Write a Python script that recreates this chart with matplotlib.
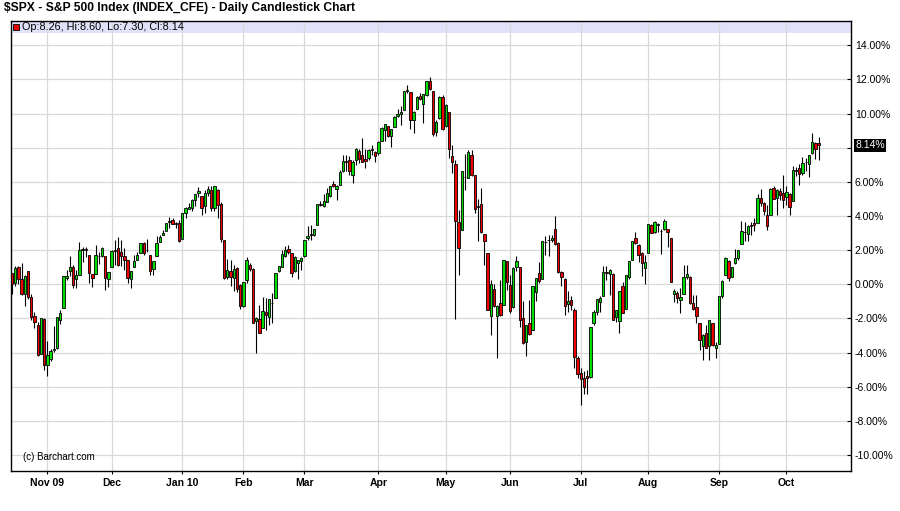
import numpy as np
import pandas as pd
import matplotlib
matplotlib.use("Agg")
import matplotlib.pyplot as plt
from matplotlib.patches import Rectangle

plt.rcParams['font.family'] = ['Liberation Sans', 'DejaVu Sans']

# trading days, Oct 16 2009 .. Oct 15 2010 (NYSE holidays removed)
holidays = ['2009-11-26', '2009-12-25', '2010-01-01', '2010-01-18', '2010-02-15',
            '2010-04-02', '2010-05-31', '2010-07-05', '2010-09-06']

# % change vs. first close, one row per month
opens = [
    0.64, 0.05, 1.00, 0.31, -0.58, 0.75, -0.74, -1.86, -2.39, -4.06, -2.06,
    -4.70, -4.35, -3.85, -3.76, -2.10, -1.41, 0.35, 0.75, 1.00, 0.29, 0.57, 1.98, 2.08, 1.70, 0.63, 0.63, 1.65, 1.67, 1.63, 0.29,
    1.00, 1.96, 2.12, 1.90, 1.67, 1.41, 0.29, 1.00, 1.43, 1.82, 2.41, 2.02, 1.73, 0.90, 1.63, 2.45, 2.86, 3.10, 3.63, 3.75, 3.60, 3.60,
    2.65, 4.18, 4.40, 4.47, 4.92, 5.35, 5.16, 4.57, 5.35, 5.55, 4.47, 5.55, 4.73, 2.57, 0.43, 0.78, 0.39, 0.95, -0.04,
    -1.27, 0.25, 1.15, 0.88, -2.17, -2.06, -2.59, -1.61, -1.90, -1.08, -0.82, 0.75, 1.04, 1.67, 2.08, 1.84, 0.76, 1.25, 1.39,
    1.64, 2.71, 2.95, 2.87, 3.46, 4.71, 4.57, 4.80, 5.16, 5.88, 5.59, 5.84, 6.66, 7.25, 7.30, 6.43, 7.30, 7.83, 7.60, 7.34, 7.40, 7.93, 7.75,
    7.70, 8.38, 9.02, 9.26, 8.67, 9.22, 9.84, 9.98, 10.23, 11.35, 11.25, 9.61, 10.27, 11.00, 10.57, 11.10, 11.90, 11.30, 8.90, 9.74, 10.98,
    9.30, 10.10, 7.54, 7.05, 3.65, 3.16, 6.30, 6.23, 7.60, 6.43, 4.57, 4.71, 2.95, 1.84, -1.88, -0.27, -1.88, -1.10, -1.19, 1.39,
    -0.02, -1.33, 1.02, 1.02, -1.97, -3.38, -2.27, -2.66, -0.47, 0.66, 0.31, 2.50, 2.58, 2.62, 3.24, 2.42, 0.72, 0.31, -1.15, -0.90, -1.48, -4.34,
    -5.21, -5.50, -5.40, -5.45, -2.29, -1.60, -1.02, -0.66, 0.70, 0.60, 0.60, -1.93, -2.13, -0.10, -1.46, 0.41, 1.43, 2.70, 2.30, 1.86, 0.98,
    1.82, 3.48, 3.05, 3.50, 3.14, 3.22, 3.22, 2.70, -0.59, -0.53, -0.92, -0.57, 0.41, 0.41, -1.11, -1.35, -2.29, -3.60, -2.87, -3.61, -2.25, -3.75,
    -3.50, -0.69, 0.55, 1.37, 0.41, 1.24, 1.53, 2.35, 3.06, 2.94, 3.45, 3.59, 3.59, 5.06, 4.76, 4.04, 4.04, 5.65, 5.06, 5.45, 5.35,
    5.10, 5.29, 4.86, 6.67, 6.82, 6.53, 7.18, 7.06, 7.71, 8.29, 8.26,
]
highs = [
    0.64, 1.10, 1.05, 1.27, 0.55, 0.80, -0.55, -1.60, -2.20, -1.95, -1.95,
    -3.30, -3.80, -2.45, -1.94, -1.50, 0.50, 0.84, 1.67, 1.14, 0.84, 2.45, 2.20, 2.20, 1.70, 0.63, 2.30, 1.90, 2.20, 1.65, 0.73,
    2.00, 2.60, 2.76, 2.60, 2.12, 1.41, 0.80, 1.73, 1.92, 2.43, 2.45, 2.67, 1.73, 1.37, 2.80, 2.90, 3.20, 3.60, 3.94, 3.88, 3.65, 3.75,
    4.18, 4.55, 4.76, 5.00, 5.31, 5.70, 5.20, 5.50, 5.75, 5.78, 5.78, 5.60, 4.80, 2.60, 1.47, 1.43, 1.14, 1.04, 0.00,
    0.14, 1.59, 1.25, 0.95, -1.90, -1.20, -0.73, -0.80, -0.85, -0.50, 0.66, 1.10, 2.00, 2.25, 2.32, 1.84, 1.65, 1.45, 1.60,
    2.62, 3.40, 3.50, 3.26, 4.71, 4.85, 5.30, 5.64, 5.78, 6.05, 5.84, 6.68, 7.60, 7.60, 7.50, 7.27, 8.00, 7.90, 8.57, 7.93, 7.95, 8.18, 7.80,
    8.40, 9.22, 9.41, 9.30, 9.10, 9.84, 10.27, 10.47, 11.31, 11.70, 11.25, 10.14, 11.00, 11.20, 11.17, 11.92, 12.15, 11.35, 9.60, 11.00, 11.10,
    10.57, 10.10, 8.13, 7.30, 4.37, 6.66, 7.66, 7.88, 7.88, 6.43, 5.00, 5.64, 2.95, 1.84, 0.27, 0.00, -1.20, 0.27, 1.45, 1.39,
    0.57, 1.02, 1.68, 1.02, -1.00, -2.36, -0.90, -0.08, 0.36, 1.30, 2.56, 2.85, 2.90, 2.90, 4.00, 2.50, 0.80, 0.35, -0.40, -0.70, -1.40, -4.20,
    -4.90, -5.10, -5.00, -2.48, -1.50, -0.85, -0.70, 1.07, 1.07, 0.90, 0.65, -1.50, -0.37, 0.16, 0.55, 1.38, 2.50, 3.09, 2.35, 1.90, 1.72,
    3.54, 3.55, 3.70, 3.60, 3.22, 3.81, 3.25, 2.70, -0.30, -0.40, -0.23, 1.13, 1.13, 0.50, -0.63, -0.63, -2.29, -2.90, -2.38, -2.09, -2.25, -3.40,
    -0.68, 0.25, 1.57, 1.40, 1.03, 2.08, 2.02, 3.69, 3.65, 3.49, 3.65, 3.88, 5.31, 5.61, 4.80, 4.67, 5.65, 5.78, 5.60, 5.65, 6.43,
    5.75, 5.35, 6.92, 6.86, 7.06, 7.45, 7.41, 7.60, 8.89, 8.35, 8.60,
]
lows = [
    -0.57, -0.10, 0.00, -0.63, -1.27, -0.85, -2.10, -2.55, -4.20, -4.06, -5.04,
    -5.40, -4.50, -3.95, -3.80, -2.35, -1.41, 0.25, 0.50, -0.24, -0.24, 0.57, 1.33, 1.60, 0.06, -0.14, 0.63, 1.20, 1.60, -0.33, -0.14,
    1.00, 1.14, 1.10, 1.10, 0.84, 0.06, -0.20, 1.00, 1.43, 1.82, 1.73, 1.90, 0.55, 0.55, 1.63, 2.45, 2.86, 3.10, 3.30, 3.53, 3.30, 2.45,
    2.65, 3.88, 4.40, 4.30, 4.60, 5.10, 4.08, 4.20, 5.20, 4.30, 4.30, 3.88, 2.45, 0.30, 0.30, -0.10, -0.37, -0.45, -1.47,
    -1.31, 0.10, 0.75, -2.29, -4.02, -2.88, -2.59, -2.69, -2.39, -2.29, -0.82, 0.70, 1.04, 1.60, 1.80, 0.43, 0.70, 0.31, 0.86,
    1.60, 2.60, 2.62, 2.80, 3.46, 4.60, 4.50, 4.80, 5.10, 5.70, 4.96, 5.80, 6.60, 6.66, 6.40, 5.94, 7.00, 7.10, 7.15, 6.80, 7.30, 7.55, 7.15,
    7.60, 8.38, 8.38, 8.60, 8.05, 9.20, 9.80, 9.35, 10.20, 11.20, 9.10, 8.87, 10.27, 10.80, 9.45, 11.00, 11.40, 8.67, 8.67, 9.70, 9.05,
    9.20, 7.40, 6.52, -2.03, 0.57, 3.16, 5.55, 6.23, 6.37, 4.20, 2.52, 3.00, 1.15, -1.50, -2.95, -1.35, -4.31, -1.85, -1.19, -0.31,
    -1.68, -1.40, 0.80, -2.50, -3.50, -4.18, -3.00, -2.70, -1.00, 0.10, 0.31, 1.74, 1.68, 2.50, 2.30, 0.66, -0.10, -1.78, -1.60, -1.48, -4.90, -5.51,
    -7.06, -6.43, -6.40, -5.50, -2.40, -1.80, -1.60, -0.66, 0.25, -0.63, -2.10, -2.20, -2.87, -1.70, -1.46, 0.30, 1.40, 2.35, 1.33, 0.49, 0.02,
    1.82, 3.00, 3.00, 3.05, 1.79, 3.20, 2.17, 0.16, -1.02, -1.11, -1.71, -0.57, 0.30, -1.15, -1.50, -2.25, -3.85, -4.43, -3.75, -4.43, -3.60, -4.34,
    -3.50, -0.80, 0.55, 0.20, 0.41, 1.20, 1.40, 2.35, 2.55, 2.51, 2.90, 3.14, 3.59, 4.60, 4.04, 3.20, 4.04, 5.00, 4.08, 4.96, 4.47,
    4.67, 4.04, 4.86, 6.33, 5.84, 6.40, 6.63, 6.27, 7.65, 7.31, 7.30,
]
closes = [
    0.00, 0.94, 0.31, -0.58, 0.48, -0.74, -1.91, -2.23, -4.14, -1.98, -4.73,
    -4.12, -3.89, -3.79, -1.94, -1.69, 0.50, 0.49, 1.00, -0.04, 0.53, 1.99, 2.08, 2.03, 0.66, 0.34, 1.71, 1.65, 2.11, 0.35, 0.73,
    1.95, 1.98, 1.13, 1.68, 1.43, 0.39, 0.76, 1.35, 1.72, 2.43, 1.86, 1.98, 0.77, 1.36, 2.42, 2.79, 3.03, 3.57, 3.69, 3.54, 3.56, 2.52,
    4.17, 4.49, 4.55, 4.96, 5.27, 5.45, 4.46, 5.33, 5.59, 4.44, 5.75, 4.63, 2.65, 0.38, 0.84, 0.41, 0.90, -0.29, -1.27,
    0.14, 1.44, 0.88, -2.26, -1.98, -2.84, -1.58, -1.80, -0.85, -1.12, 0.66, 1.09, 1.75, 1.98, 1.87, 0.64, 1.61, 1.40, 1.55,
    2.58, 2.82, 2.86, 3.24, 4.69, 4.67, 4.85, 5.32, 5.75, 5.73, 5.78, 6.60, 7.22, 7.18, 6.64, 7.18, 7.95, 7.36, 7.17, 7.25, 7.86, 7.87, 7.51,
    8.31, 9.17, 9.36, 8.71, 9.08, 9.81, 10.00, 10.08, 11.31, 11.40, 9.60, 10.10, 10.98, 10.87, 11.12, 11.91, 11.43, 8.83, 9.53, 10.95, 9.10,
    10.53, 7.90, 7.19, 3.72, 2.13, 6.62, 6.26, 7.72, 6.41, 4.41, 4.53, 3.04, 2.52, -1.48, 0.00, -1.29, -1.26, -1.82, 1.41, 0.16,
    -1.56, 0.98, 1.39, -2.10, -3.42, -2.36, -2.94, -0.08, 0.36, 0.18, 2.53, 2.47, 2.61, 2.74, 2.35, 0.70, 0.40, -1.29, -1.00, -1.21, -4.27, -5.24,
    -5.55, -5.99, -5.48, -2.52, -1.60, -0.89, -0.82, 0.70, 0.69, 0.81, -2.10, -1.51, -0.39, -1.66, 0.55, 1.38, 2.51, 2.41, 1.70, 1.27, 1.28,
    3.51, 3.01, 3.64, 3.50, 3.12, 3.69, 3.07, 0.16, -0.37, -0.78, -0.76, 0.45, 0.60, -1.11, -1.47, -1.87, -3.29, -2.97, -3.72, -2.12, -3.56, -3.53,
    -0.68, 0.22, 1.55, 0.38, 1.03, 1.52, 2.01, 3.15, 3.07, 3.44, 3.40, 3.48, 5.06, 4.79, 4.28, 3.41, 5.61, 5.01, 5.52, 5.25, 4.92,
    5.38, 4.54, 6.72, 6.65, 6.47, 7.12, 7.14, 7.55, 8.31, 7.92, 8.14,
]

dates = pd.bdate_range('2009-10-16', '2010-10-15', freq='C', holidays=holidays)
o = np.array(opens)
c = np.array(closes)
h = np.maximum(np.array(highs), np.maximum(o, c))
l = np.minimum(np.array(lows), np.minimum(o, c))
x = np.arange(len(c))

fig = plt.figure(figsize=(9, 5.11), dpi=100)
ax = fig.add_axes([10.7 / 900, 40.3 / 511, 840 / 900, 450 / 511])

# candles
ax.vlines(x, l, h, color='black', linewidth=0.8, zorder=2)
body_col = np.where(c >= o, '#00dd00', '#ee0000')
body_h = np.maximum(np.abs(c - o), 0.02)
ax.bar(x, body_h, bottom=np.minimum(o, c), width=0.74, color=body_col,
       edgecolor='black', linewidth=0.6, zorder=3)

ax.set_xlim(-0.4, 261)
ax.set_ylim(-10.92, 15.44)

# month ticks
ticks, tick_labels = [], []
for i in range(1, len(dates)):
    if dates[i].month != dates[i - 1].month:
        ticks.append(i)
        if not ticks[:-1] or dates[i].month == 1:
            tick_labels.append(dates[i].strftime('%b %y'))
        else:
            tick_labels.append(dates[i].strftime('%b'))
ax.set_xticks(ticks)
ax.set_xticklabels(tick_labels, fontweight='bold', fontsize=7.5)

yt = list(range(-10, 15, 2))
ax.yaxis.tick_right()
ax.set_yticks(yt)
ax.set_yticklabels(['' if v == 8 else f'{v:.2f}%' for v in yt], fontsize=7.5)

ax.tick_params(axis='x', direction='out', length=2.5, width=0.8, pad=3)
ax.tick_params(axis='y', direction='in', length=3, width=0.8, pad=3)
ax.grid(True, color='#d9d9d9', linewidth=0.9, zorder=0.5)
ax.set_axisbelow(True)
for s in ax.spines.values():
    s.set_linewidth(1.0)
    s.set_color('black')

# header band inside the plot box
ax.add_patch(Rectangle((0, 1 - 12 / 450), 1, 12 / 450, transform=ax.transAxes,
                       facecolor='#e1e1fa', edgecolor='none', zorder=0.3))
ax.plot([0.0063], [0.9867], marker='s', markersize=5, markerfacecolor='#ee0000',
        markeredgecolor='black', markeredgewidth=0.6, transform=ax.transAxes, clip_on=False)
ax.text(0.0131, 0.9867, 'Op:8.26, Hi:8.60, Lo:7.30, Cl:8.14', transform=ax.transAxes,
        fontsize=7.8, va='center', ha='left')

# last value tag
ax.text(1 + 4.5 / 840, closes[-1], f'{closes[-1]:.2f}%', transform=ax.get_yaxis_transform(),
        fontsize=7.5, color='white', va='center', ha='left',
        bbox=dict(boxstyle='square,pad=0.12', facecolor='black', edgecolor='none'), zorder=5)

ax.text(0.0143, 0.0298, '(c) Barchart.com', transform=ax.transAxes, fontsize=7, va='center')

fig.text(4 / 900, 1 - 8.5 / 511, '$SPX - S&P 500 Index (INDEX_CFE) - Daily Candlestick Chart',
         fontsize=8.7, fontweight='bold', va='center', ha='left')

fig.savefig('out.png', dpi=100, facecolor='white')
